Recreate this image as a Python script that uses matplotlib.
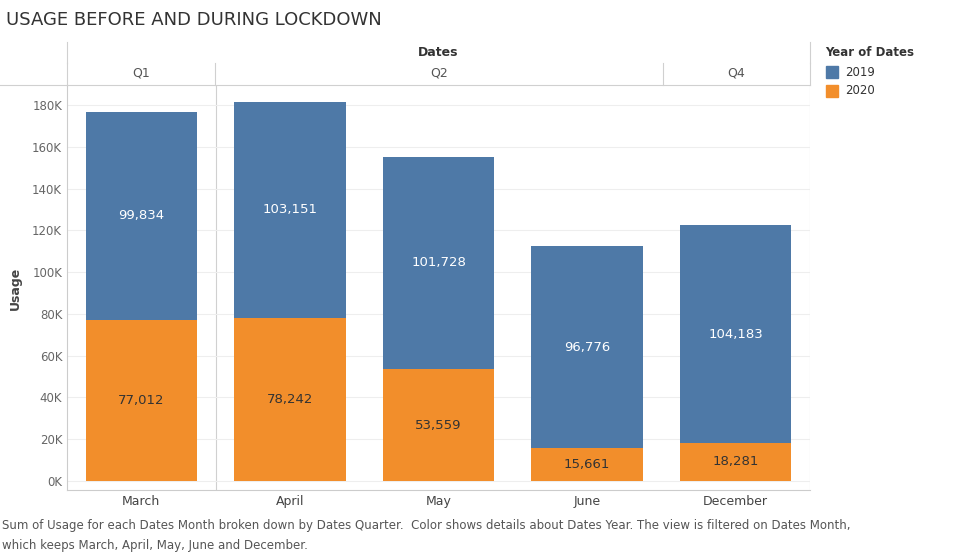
import matplotlib
matplotlib.use("Agg")
import matplotlib.pyplot as plt
from matplotlib.patches import Rectangle
from matplotlib.lines import Line2D

months = ["March", "April", "May", "June", "December"]
quarters = ["Q1", "Q2", "Q2", "Q2", "Q4"]
v2020 = [77012, 78242, 53559, 15661, 18281]
v2019 = [99834, 103151, 101728, 96776, 104183]
yticks = [0, 20000, 40000, 60000, 80000, 100000, 120000, 140000, 160000, 180000]
c2019, c2020 = "#4e79a7", "#f28e2b"

W, H = 963, 554
fig = plt.figure(figsize=(W/100, H/100), dpi=100)
fx = lambda x: x/W
fy = lambda y: 1 - y/H
ax = fig.add_axes([fx(67), fy(490), fx(810)-fx(67), fy(85)-fy(490)])
x = list(range(len(months)))
ax.bar(x, v2020, width=0.75, color=c2020, zorder=3)
ax.bar(x, v2019, width=0.75, bottom=v2020, color=c2019, zorder=3)
for i in x:
    ax.text(i, v2020[i]/2, f"{v2020[i]:,}", ha="center", va="center", fontsize=9.5, color="#333333", zorder=4)
    ax.text(i, v2020[i]+v2019[i]/2, f"{v2019[i]:,}", ha="center", va="center", fontsize=9.5, color="white", zorder=4)
ax.set_xlim(-0.5, len(months)-0.5)
ax.set_ylim(-4300, 189600)
ax.set_yticks(yticks)
ax.set_yticklabels([f"{int(t/1000)}K" for t in yticks], fontsize=8.5, color="#666666")
ax.set_xticks(x)
ax.set_xticklabels(months, fontsize=9, color="#444444")
ax.tick_params(length=0)
ax.grid(axis="y", color="#eeeeee", lw=0.8, zorder=0)
for s in ["top", "right"]:
    ax.spines[s].set_visible(False)
ax.spines["left"].set_color("#cccccc")
ax.spines["bottom"].set_color("#cccccc")
for b in [0.5, 4.5]:
    ax.axvline(b, color="#d0d0d0", lw=0.8, zorder=1)
fig.text(fx(15), fy(288), "Usage", rotation=90, ha="center", va="center", fontsize=9, fontweight="bold", color="#444444")

def hline(y, x0, x1):
    fig.add_artist(Line2D([fx(x0), fx(x1)], [fy(y), fy(y)], color="#d0d0d0", lw=0.8))
def vline(xp, y0, y1):
    fig.add_artist(Line2D([fx(xp), fx(xp)], [fy(y0), fy(y1)], color="#d0d0d0", lw=0.8))
hline(85, 0, 810)
for xp in [67, 215, 663, 810]:
    vline(xp, 63, 85)
vline(67, 42, 63); vline(810, 42, 63)
fig.text(fx(438), fy(53), "Dates", ha="center", va="center", fontsize=9, fontweight="bold", color="#333333")
fig.text(fx(141), fy(73), "Q1", ha="center", va="center", fontsize=9, color="#555555")
fig.text(fx(439), fy(73), "Q2", ha="center", va="center", fontsize=9, color="#555555")
fig.text(fx(736), fy(73), "Q4", ha="center", va="center", fontsize=9, color="#555555")

fig.text(fx(6), fy(20), "USAGE BEFORE AND DURING LOCKDOWN", ha="left", va="center", fontsize=13, color="#333333")

fig.text(fx(825), fy(53), "Year of Dates", ha="left", va="center", fontsize=8.5, fontweight="bold", color="#333333")
for yy, c, lab in [(72, c2019, "2019"), (91, c2020, "2020")]:
    fig.add_artist(Rectangle((fx(826), fy(yy+6)), fx(12), fy(0)-fy(12), color=c, transform=fig.transFigure))
    fig.text(fx(845), fy(yy), lab, ha="left", va="center", fontsize=8.5, color="#333333")

fig.text(fx(2), fy(526), "Sum of Usage for each Dates Month broken down by Dates Quarter.  Color shows details about Dates Year. The view is filtered on Dates Month,",
         ha="left", va="center", fontsize=8.5, color="#555555")
fig.text(fx(2), fy(545), "which keeps March, April, May, June and December.", ha="left", va="center", fontsize=8.5, color="#555555")

fig.savefig("out.png", dpi=100)
